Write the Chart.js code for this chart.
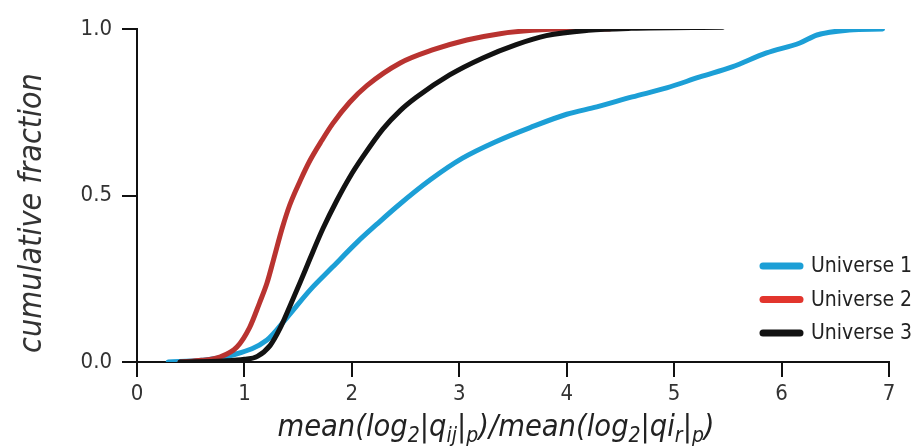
<!DOCTYPE html>
<html>
<head>
<meta charset="utf-8">
<script src="https://cdn.jsdelivr.net/npm/chart.js@4"></script>
<style>
  html, body { margin: 0; padding: 0; background: #fff; }
  #wrap { width: 921px; height: 448px; }
</style>
</head>
<body>
<div id="wrap"><canvas id="cdf"></canvas></div>
<script>
// values
var seriesNames = ['Universe 1', 'Universe 2', 'Universe 3'];

var u1X = [0.29, 0.6, 0.89, 1.21, 1.40, 1.61, 1.82, 2.05, 2.23, 2.42, 2.73, 3.03, 3.35, 3.66, 4.0, 4.28, 4.61, 4.93, 5.24, 5.54, 5.86, 6.17, 6.33, 6.63, 6.94];
var u1Y = [0, 0.005, 0.021, 0.066, 0.135, 0.216, 0.285, 0.36, 0.413, 0.467, 0.547, 0.612, 0.663, 0.704, 0.744, 0.766, 0.796, 0.823, 0.856, 0.886, 0.928, 0.958, 0.982, 0.997, 1.0];

var u2X = [0.4, 0.6, 0.77, 0.93, 1.05, 1.14, 1.21, 1.27, 1.35, 1.42, 1.52, 1.61, 1.72, 1.82, 1.98, 2.14, 2.45, 2.75, 3.07, 3.38, 3.68, 4.0, 4.4];
var u2Y = [0, 0.005, 0.015, 0.045, 0.105, 0.177, 0.237, 0.306, 0.4, 0.47, 0.545, 0.605, 0.665, 0.715, 0.78, 0.83, 0.898, 0.937, 0.967, 0.986, 0.996, 1.0, 1.0];

var u3X = [0.4, 0.8, 1.0, 1.12, 1.24, 1.33, 1.42, 1.52, 1.61, 1.73, 1.86, 1.98, 2.10, 2.29, 2.45, 2.60, 2.91, 3.22, 3.53, 3.81, 4.2, 4.6, 5.45];
var u3Y = [0, 0.003, 0.008, 0.017, 0.05, 0.1, 0.165, 0.24, 0.31, 0.4, 0.485, 0.555, 0.615, 0.7, 0.755, 0.795, 0.862, 0.913, 0.953, 0.98, 0.996, 1.002, 1.005];

var xTicks = [0, 1, 2, 3, 4, 5, 6, 7];
var yTicks = [0, 0.5, 1];

var lineColors = ['#1c9fd6', '#b93330', '#121212'];
var legendColors = ['#1c9fd6', '#e2352d', '#121212'];

var FONT = "'Liberation Sans Narrow', 'DejaVu Sans Condensed', sans-serif";

function pts(xs, ys) {
  return xs.map(function(x, i) { return { x: x, y: ys[i] }; });
}

// legend + axis titles drawn by hand so they sit where the reference has them
var decor = {
  id: 'decor',
  afterDraw: function(chart) {
    var ctx = chart.ctx;
    ctx.save();

    // legend, bottom right
    ctx.font = '21px ' + FONT;
    ctx.textBaseline = 'middle';
    ctx.textAlign = 'left';
    ctx.lineCap = 'round';
    ctx.lineWidth = 7;
    for (var i = 0; i < seriesNames.length; i++) {
      var ly = 266 + i * 33.5;
      ctx.strokeStyle = legendColors[i];
      ctx.beginPath();
      ctx.moveTo(763, ly);
      ctx.lineTo(800, ly);
      ctx.stroke();
      ctx.fillStyle = '#222';
      ctx.fillText(seriesNames[i], 811, ly + 1);
    }

    // y title
    ctx.save();
    ctx.translate(33, 213);
    ctx.rotate(-Math.PI / 2);
    ctx.font = 'italic 32px ' + FONT;
    ctx.textAlign = 'center';
    ctx.textBaseline = 'middle';
    ctx.fillStyle = '#333';
    ctx.fillText('cumulative fraction', 0, 0);
    ctx.restore();

    // x title with subscripts
    var parts = [['mean(log', 0], ['2', 1], ['|q', 0], ['ij', 1], ['|', 0], ['p', 1],
                 [')/mean(log', 0], ['2', 1], ['|qi', 0], ['r', 1], ['|', 0], ['p', 1], [')', 0]];
    var big = 'italic 30.5px ' + FONT, small = 'italic 21px ' + FONT;
    var total = 0;
    parts.forEach(function(p) { ctx.font = p[1] ? small : big; total += ctx.measureText(p[0]).width; });
    var x = 496 - total / 2, base = 436;
    ctx.textAlign = 'left';
    ctx.textBaseline = 'alphabetic';
    ctx.fillStyle = '#222';
    parts.forEach(function(p) {
      ctx.font = p[1] ? small : big;
      ctx.fillText(p[0], x, p[1] ? base + 6 : base);
      x += ctx.measureText(p[0]).width;
    });
    ctx.restore();
  }
};

var config = {
  type: 'line',
  data: {
    datasets: [
      { label: seriesNames[0], data: pts(u1X, u1Y), borderColor: lineColors[0], order: 2 },
      { label: seriesNames[1], data: pts(u2X, u2Y), borderColor: lineColors[1], order: 1 },
      { label: seriesNames[2], data: pts(u3X, u3Y), borderColor: lineColors[2], order: 0 }
    ]
  },
  options: {
    responsive: true,
    maintainAspectRatio: false,
    animation: false,
    layout: { padding: { top: 29, right: 32, left: 0, bottom: 0 } },
    elements: {
      line: { borderWidth: 5, cubicInterpolationMode: 'monotone', fill: false, borderCapStyle: 'round' },
      point: { radius: 0 }
    },
    plugins: {
      legend: { display: false },
      tooltip: { enabled: false }
    },
    scales: {
      x: {
        type: 'linear',
        min: 0,
        max: 7,
        afterFit: function(s) { s.height = 86; },
        afterBuildTicks: function(s) { s.ticks = xTicks.map(function(v) { return { value: v }; }); },
        border: { display: true, color: '#111', width: 2 },
        grid: { drawOnChartArea: false, drawTicks: true, tickLength: 15, color: '#111', lineWidth: 2 },
        ticks: { color: '#333', font: { family: FONT, size: 22 }, padding: 4 }
      },
      y: {
        min: 0,
        max: 1,
        afterFit: function(s) { s.width = 137; },
        afterBuildTicks: function(s) { s.ticks = yTicks.map(function(v) { return { value: v }; }); },
        border: { display: true, color: '#111', width: 2 },
        grid: { drawOnChartArea: false, drawTicks: true, tickLength: 15, color: '#111', lineWidth: 2 },
        ticks: {
          color: '#333',
          font: { family: FONT, size: 22 },
          padding: 10,
          callback: function(v) { return v.toFixed(1); }
        }
      }
    }
  },
  plugins: [decor]
};

window.onload = function() {
  var ctx = document.getElementById('cdf').getContext('2d');
  window.myLine = new Chart(ctx, config);
};
</script>
</body>
</html>
